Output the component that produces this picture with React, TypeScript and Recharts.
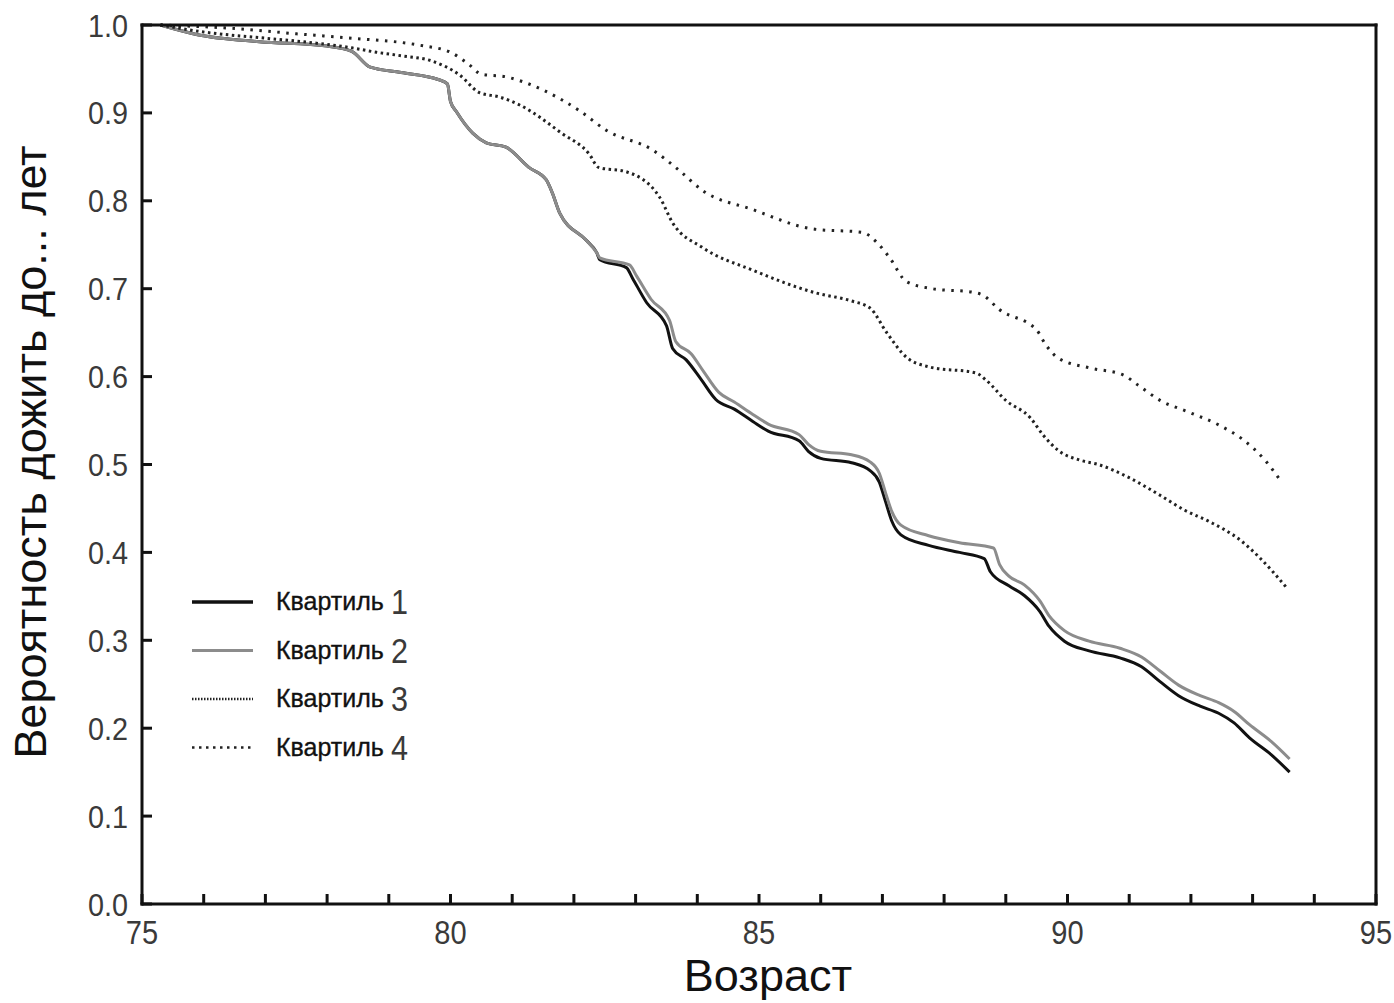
import React from "react";
import { LineChart, Line, XAxis, YAxis } from "recharts";

// ages with a tick on the axes, labels only every 5 years
const ageTicks = [75, 76, 77, 78, 79, 80, 81, 82, 83, 84, 85, 86, 87, 88, 89, 90, 91, 92, 93, 94, 95];
const probTicks = [0, 0.1, 0.2, 0.3, 0.4, 0.5, 0.6, 0.7, 0.8, 0.9, 1.0];

// [age, probability]
const quartile1 = [
  [75.3, 1.0], [75.9, 0.989], [76.9, 0.981], [78.0, 0.976], [78.4, 0.97], [78.7, 0.952], [79.2, 0.946],
  [79.8, 0.938], [79.95, 0.933], [80.0, 0.913], [80.1, 0.901], [80.36, 0.877], [80.58, 0.866], [80.9, 0.861],
  [81.27, 0.838], [81.55, 0.824], [81.65, 0.809], [81.77, 0.786], [82.2, 0.755], [82.37, 0.741], [82.42, 0.733],
  [82.85, 0.724], [82.95, 0.712], [83.18, 0.684], [83.5, 0.658], [83.6, 0.632], [83.82, 0.619], [84.05, 0.598],
  [84.3, 0.574], [84.6, 0.563], [84.9, 0.549], [85.15, 0.538], [85.65, 0.527], [85.8, 0.515], [86.0, 0.507],
  [86.5, 0.502], [86.8, 0.493], [86.95, 0.48], [87.05, 0.458], [87.15, 0.436], [87.3, 0.42], [87.75, 0.408],
  [88.25, 0.4], [88.65, 0.393], [88.75, 0.378], [89.05, 0.362], [89.3, 0.351], [89.55, 0.333], [89.7, 0.316],
  [89.95, 0.299], [90.35, 0.288], [90.85, 0.28], [91.2, 0.27], [91.5, 0.253], [91.8, 0.237], [92.15, 0.225],
  [92.45, 0.217], [92.7, 0.206], [92.95, 0.189], [93.3, 0.17], [93.6, 0.15],
];

const quartile2 = [
  [75.3, 1.0], [75.9, 0.989], [76.9, 0.981], [78.0, 0.976], [78.4, 0.97], [78.7, 0.952], [79.2, 0.946],
  [79.8, 0.938], [79.95, 0.933], [80.0, 0.913], [80.1, 0.901], [80.36, 0.877], [80.58, 0.866], [80.9, 0.861],
  [81.27, 0.838], [81.55, 0.824], [81.65, 0.809], [81.77, 0.786], [82.2, 0.755], [82.37, 0.741], [82.42, 0.735],
  [82.9, 0.727], [83.02, 0.714], [83.25, 0.688], [83.55, 0.664], [83.65, 0.64], [83.9, 0.626], [84.1, 0.606],
  [84.35, 0.582], [84.6, 0.571], [84.9, 0.557], [85.15, 0.546], [85.65, 0.534], [85.8, 0.523], [86.0, 0.515],
  [86.5, 0.511], [86.8, 0.503], [86.95, 0.49], [87.05, 0.468], [87.15, 0.447], [87.3, 0.431], [87.75, 0.419],
  [88.25, 0.411], [88.8, 0.405], [88.9, 0.386], [89.05, 0.373], [89.3, 0.363], [89.55, 0.345], [89.7, 0.328],
  [89.95, 0.311], [90.35, 0.299], [90.85, 0.291], [91.2, 0.281], [91.5, 0.265], [91.8, 0.249], [92.15, 0.237],
  [92.45, 0.229], [92.7, 0.219], [92.95, 0.204], [93.3, 0.185], [93.6, 0.165],
];

const quartile3 = [
  [75.3, 1.0], [76.0, 0.992], [77.0, 0.985], [77.6, 0.981], [78.4, 0.974], [78.8, 0.969], [79.2, 0.965],
  [79.7, 0.959], [80.15, 0.943], [80.47, 0.923], [80.8, 0.918], [81.12, 0.909], [81.8, 0.877], [82.25, 0.853],
  [82.4, 0.838], [82.85, 0.833], [83.39, 0.804], [83.6, 0.775], [84.08, 0.747], [84.9, 0.721], [85.93, 0.695],
  [86.5, 0.686], [86.8, 0.678], [87.07, 0.65], [87.39, 0.622], [87.76, 0.611], [88.52, 0.604], [88.68, 0.596],
  [89.0, 0.573], [89.4, 0.553], [89.6, 0.534], [89.85, 0.516], [90.2, 0.505], [90.5, 0.5], [91.0, 0.485],
  [91.5, 0.465], [91.9, 0.448], [92.3, 0.435], [92.8, 0.414], [93.1, 0.395], [93.55, 0.36],
];

const quartile4 = [
  [75.3, 1.0], [76.5, 0.996], [77.5, 0.99], [78.4, 0.985], [79.5, 0.977], [80.0, 0.969], [80.3, 0.955],
  [80.5, 0.944], [80.9, 0.941], [81.15, 0.936], [81.5, 0.926], [82.1, 0.902], [82.53, 0.88], [83.27, 0.858],
  [83.7, 0.835], [84.08, 0.812], [84.9, 0.79], [85.87, 0.768], [86.68, 0.764], [86.92, 0.752], [87.12, 0.735],
  [87.39, 0.708], [87.81, 0.7], [88.46, 0.696], [88.62, 0.693], [88.9, 0.676], [89.5, 0.653], [89.65, 0.636],
  [89.85, 0.621], [90.35, 0.61], [90.9, 0.602], [91.15, 0.59], [91.5, 0.573], [91.95, 0.56], [92.45, 0.545],
  [92.85, 0.528], [93.2, 0.505], [93.45, 0.482],
];

const legendItems = [
  { name: "Квартиль", num: "1", stroke: "#111", width: 3.5, dash: undefined },
  { name: "Квартиль", num: "2", stroke: "#8c8c8c", width: 3, dash: undefined },
  { name: "Квартиль", num: "3", stroke: "#222", width: 2.5, dash: "1.5 1.5" },
  { name: "Квартиль", num: "4", stroke: "#222", width: 2.5, dash: "2.5 4.5" },
];

const toPts = (rows: number[][]) => rows.map(([age, p]) => ({ age, p }));

const INK = "#111";
const FONT = "'Liberation Sans', Arial, sans-serif";
const LABEL = "#3a3a3a";

// narrow-looking numerals: regular face squeezed horizontally
const BottomTick = ({ x, y, payload }: any) => (
  <g>
    <line x1={x} y1={y} x2={x} y2={y - 10} stroke={INK} strokeWidth={3} />
    {payload.value % 5 === 0 && (
      <text transform={`translate(${x},${y + 17}) scale(0.88,1)`} dy="0.71em" textAnchor="middle"
        fontSize={33} fill={LABEL} fontFamily={FONT}>
        {payload.value}
      </text>
    )}
  </g>
);

const TopTick = ({ x, y }: any) => <line x1={x} y1={y} x2={x} y2={y + 10} stroke={INK} strokeWidth={3} />;

const LeftTick = ({ x, y, payload }: any) => (
  <g>
    <line x1={x} y1={y} x2={x + 10} y2={y} stroke={INK} strokeWidth={3} />
    <text transform={`translate(${x - 14},${y}) scale(0.9,1)`} dy="0.36em" textAnchor="end"
      fontSize={32} fill={LABEL} fontFamily={FONT}>
      {Number(payload.value).toFixed(1)}
    </text>
  </g>
);

const RightTick = ({ x, y }: any) => <line x1={x} y1={y} x2={x - 10} y2={y} stroke={INK} strokeWidth={3} />;

const axisLine = { stroke: INK, strokeWidth: 3, strokeLinecap: "square" as const };

export default function App() {
  return (
    <div style={{ position: "absolute", left: 0, top: 0, width: 1394, height: 1003, background: "#fff" }}>
      <LineChart width={1394} height={1003} margin={{ top: 24, right: 17, bottom: 98, left: 141 }}>
        <XAxis
          xAxisId="b" dataKey="age" type="number" domain={[75, 95]} ticks={ageTicks} interval={0}
          height={1} tickSize={0} tickMargin={0} tickLine={false} axisLine={axisLine} tick={<BottomTick />}
        />
        <XAxis
          xAxisId="t" orientation="top" dataKey="age" type="number" domain={[75, 95]} ticks={ageTicks} interval={0}
          height={1} tickSize={0} tickMargin={0} tickLine={false} axisLine={axisLine} tick={<TopTick />}
        />
        <YAxis
          yAxisId="l" type="number" domain={[0, 1]} ticks={probTicks} interval={0}
          width={1} tickSize={0} tickMargin={0} tickLine={false} axisLine={axisLine} tick={<LeftTick />}
        />
        <YAxis
          yAxisId="r" orientation="right" type="number" domain={[0, 1]} ticks={probTicks} interval={0}
          width={1} tickSize={0} tickMargin={0} tickLine={false} axisLine={axisLine} tick={<RightTick />}
        />
        <Line xAxisId="b" yAxisId="l" data={toPts(quartile1)} dataKey="p" type="monotone" stroke="#111"
          strokeWidth={3} dot={false} isAnimationActive={false} />
        <Line xAxisId="b" yAxisId="l" data={toPts(quartile2)} dataKey="p" type="monotone" stroke="#8c8c8c"
          strokeWidth={3} dot={false} isAnimationActive={false} />
        <Line xAxisId="b" yAxisId="l" data={toPts(quartile3)} dataKey="p" type="monotone" stroke="#222"
          strokeWidth={3} strokeDasharray="2.5 3.5" dot={false} isAnimationActive={false} />
        <Line xAxisId="b" yAxisId="l" data={toPts(quartile4)} dataKey="p" type="monotone" stroke="#222"
          strokeWidth={3} strokeDasharray="2.5 6.5" dot={false} isAnimationActive={false} />
      </LineChart>

      <svg width={1394} height={1003} style={{ position: "absolute", left: 0, top: 0, pointerEvents: "none" }}>
        <text x={768} y={991} textAnchor="middle" fontSize={45} fill={INK} fontFamily={FONT}>
          Возраст
        </text>
        <text transform="translate(46, 452) rotate(-90)" textAnchor="middle" fontSize={45} fill={INK} fontFamily={FONT}>
          Вероятность дожить до... лет
        </text>
        {legendItems.map((it, i) => {
          const cy = 602 + i * 48.5;
          return (
            <g key={it.num}>
              <line x1={192} y1={cy} x2={253} y2={cy} stroke={it.stroke} strokeWidth={it.width} strokeDasharray={it.dash} />
              <text x={276} y={cy + 8} fontSize={25} fill={INK} stroke={INK} strokeWidth={0.35} fontFamily={FONT}>
                {it.name}
              </text>
              <text transform={`translate(391,${cy + 12}) scale(0.85,1)`} fontSize={36} fill={LABEL} fontFamily={FONT}>
                {it.num}
              </text>
            </g>
          );
        })}
      </svg>
    </div>
  );
}
